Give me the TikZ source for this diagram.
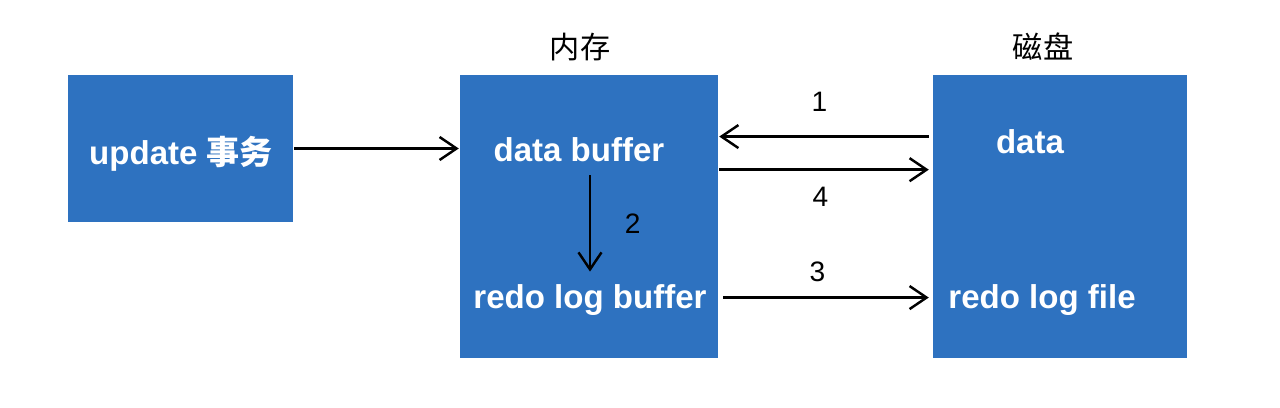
\documentclass[tikz,border=0pt]{standalone}
\usepackage{fontspec}
\setmainfont{Liberation Sans}
\newfontfamily\cjk{Noto Sans CJK SC}
\usetikzlibrary{positioning,arrows.meta,calc}
\definecolor{boxblue}{RGB}{46,114,192}
\tikzset{
  block/.style={draw=none,fill=boxblue,inner sep=0pt},
  every edge/.style={draw,->,>={Straight Barb[length=1.7mm,width=2.3mm]},line width=0.7pt},
}

\begin{document}
\begin{tikzpicture}[
  >={Straight Barb[length=1.7mm,width=2.3mm]},line width=0.7pt,
  txt/.style={text=white,font=\fontsize{9.4}{11}\selectfont\bfseries},
  head/.style={font=\fontsize{8.6}{10}\selectfont\cjk},
  lab/.style={font=\fontsize{8}{10}\selectfont,inner sep=1pt}
]
\useasboundingbox (0,0) rectangle (12.8,4.07);

\node[block,minimum width=2.25cm,minimum height=1.47cm] (upd) at (1.805,2.585) {};
\node[block,minimum width=2.58cm,minimum height=2.83cm] (mem) at (5.89,1.905) {};
\node[block,minimum width=2.54cm,minimum height=2.83cm] (disk) at (10.60,1.905) {};

\node[head] (memlab) at (5.80,3.60) {内存};
\node[head] (disklab) at (10.43,3.60) {磁盘};

\node[txt] (updtxt) at (1.81,2.53) {update {\cjk 事务}};
\node[txt] (dbuf) at (5.79,2.57) {data buffer};
\node[txt] (rbuf) at (5.90,1.07) {redo log buffer};
\node[txt] (data) at (10.30,2.65) {data};
\node[txt] (rfile) at (10.42,1.07) {redo log file};

\coordinate (m1) at ($(mem.north east)!0.22!(mem.south east)$);
\coordinate (m4) at ($(mem.north east)!0.336!(mem.south east)$);
\coordinate (m3) at ($(mem.north east)!0.784!(mem.south east)$);

\path
(upd.east) edge (upd.east -| mem.west)
(m1 -| disk.west) edge[shorten <=0.03cm] node[lab,above=0.2cm,xshift=-0.06cm] {1} (m1)
(m4) edge[shorten >=0.03cm] node[lab,below=0.13cm,xshift=-0.05cm] {4} (m4 -| disk.west)
(m3) edge[shorten <=0.04cm,shorten >=0.03cm] node[lab,above=0.11cm,xshift=-0.08cm] {3} (m3 -| disk.west)
(dbuf.south -| rbuf.north) edge node[lab,right=0.3cm] {2} (rbuf.north);

\end{tikzpicture}
\end{document}
